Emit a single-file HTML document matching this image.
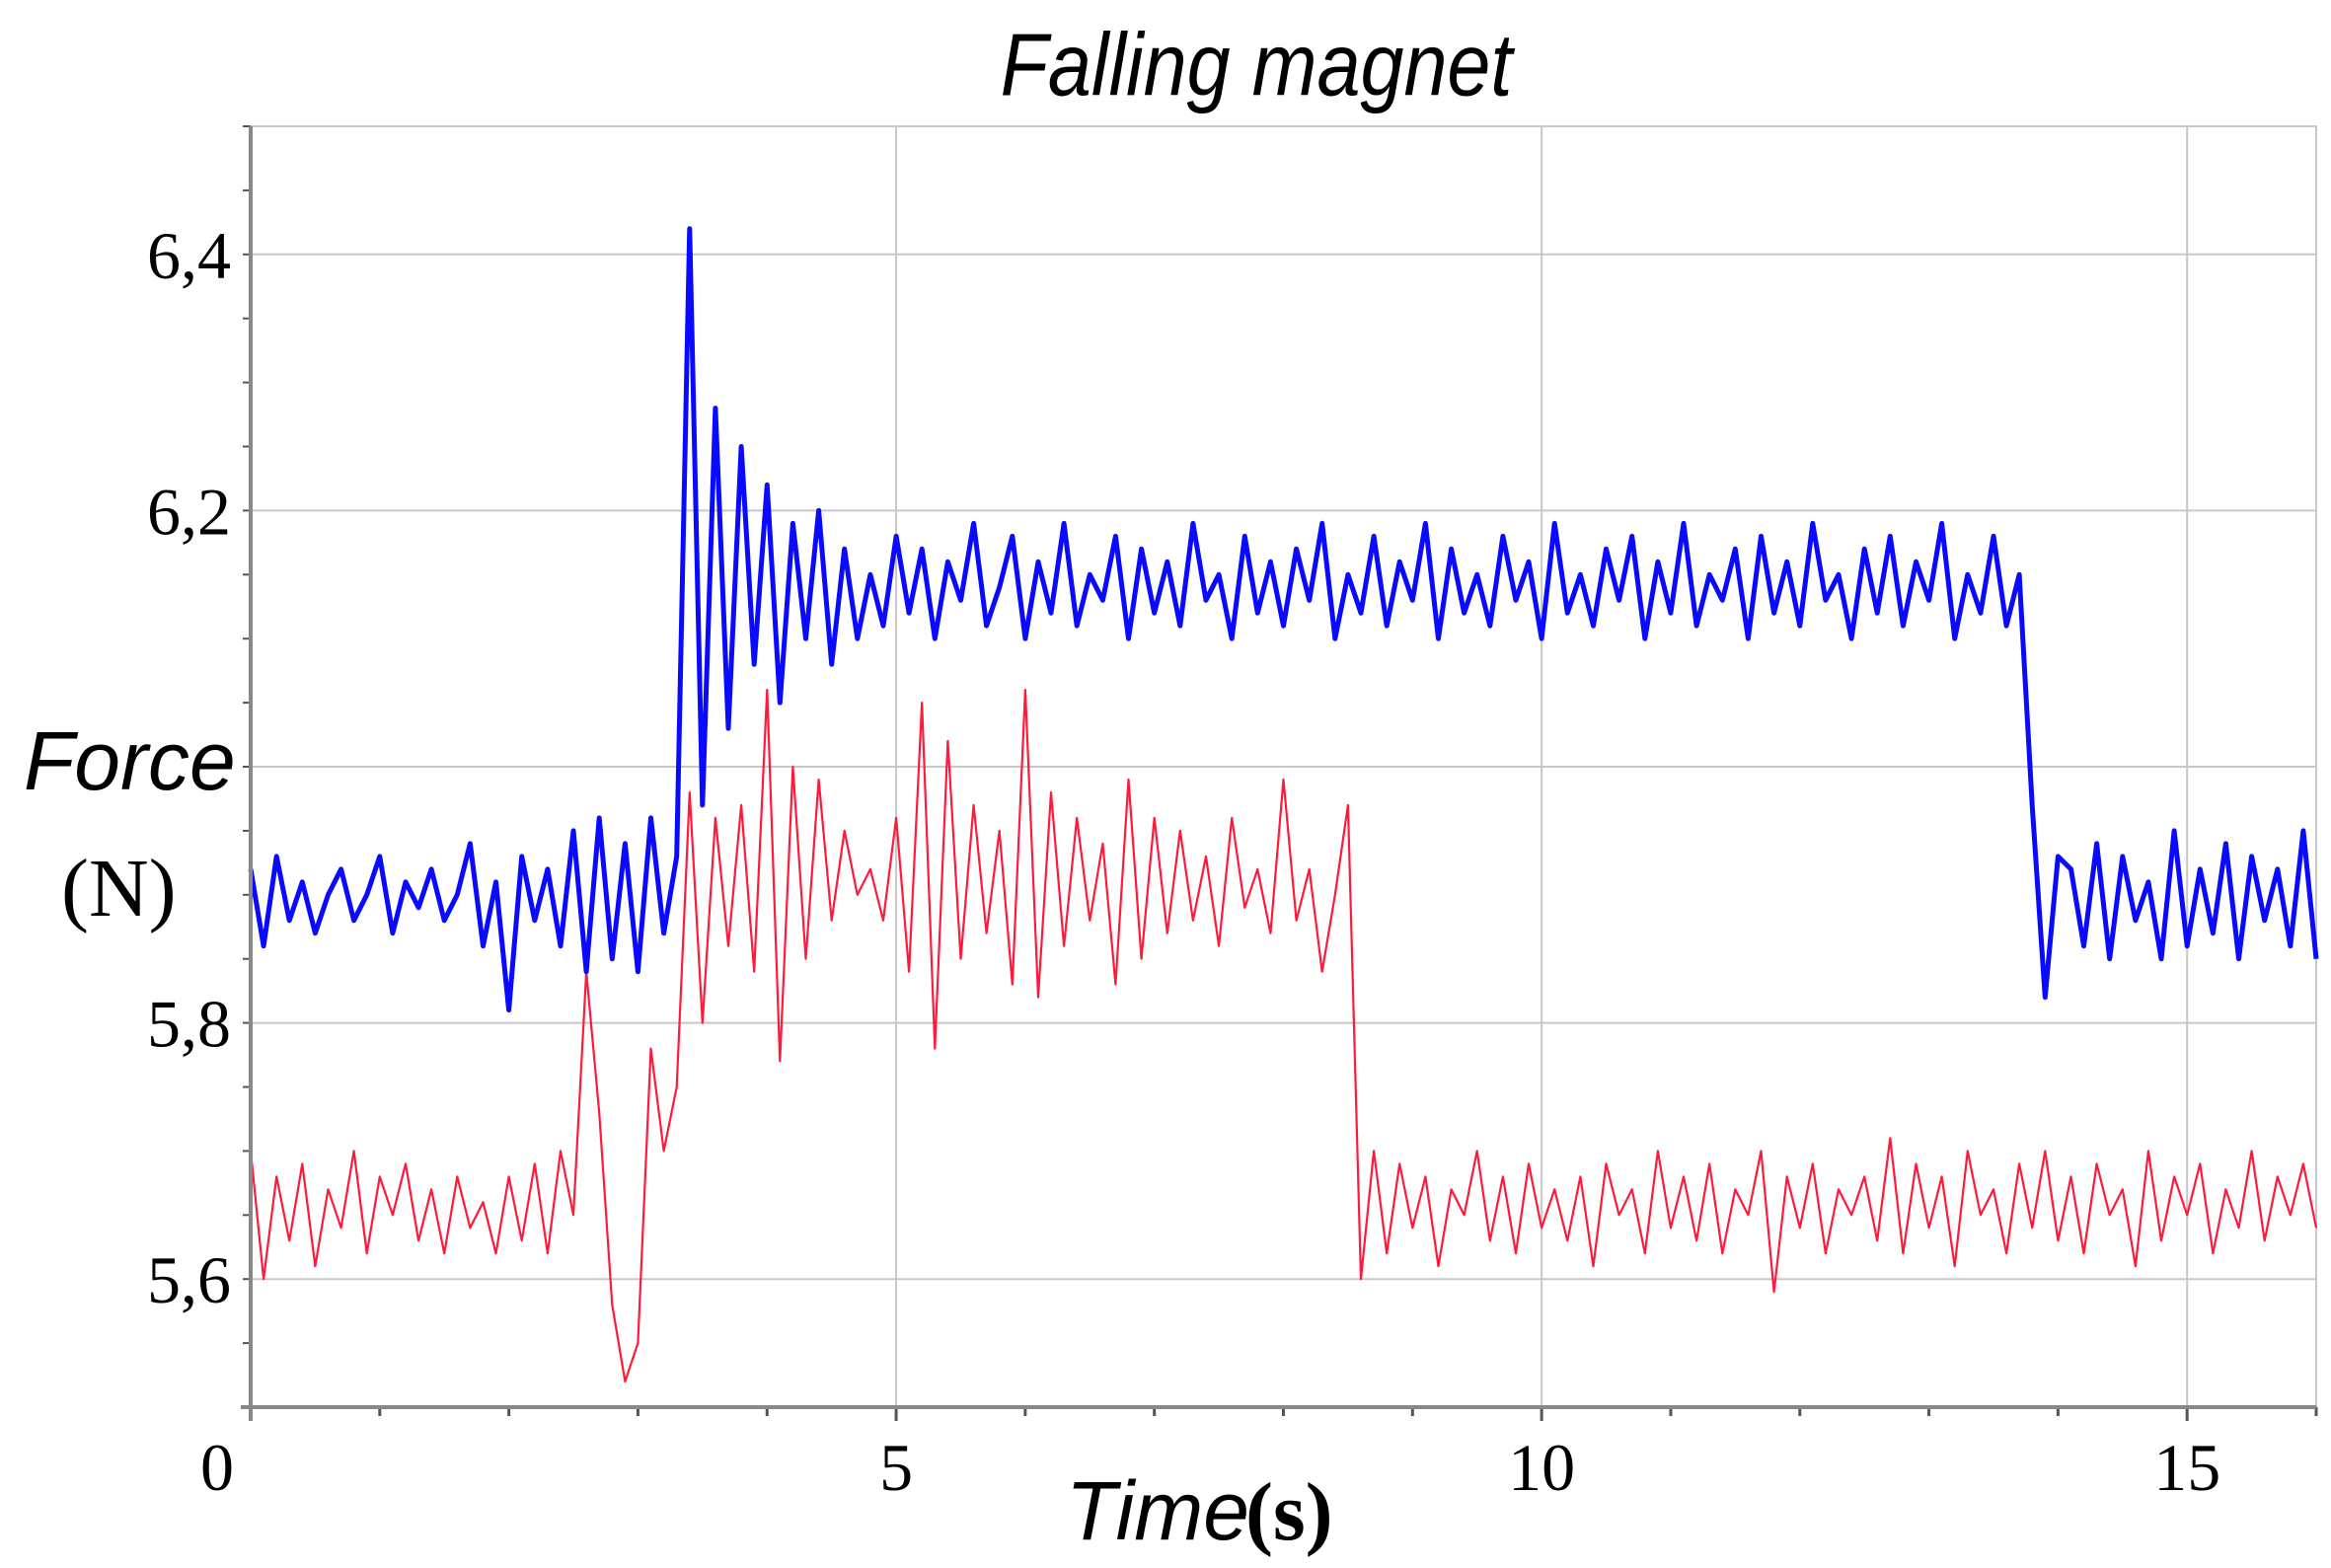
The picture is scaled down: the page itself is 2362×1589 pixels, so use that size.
<!DOCTYPE html>
<html><head><meta charset="utf-8"><style>
html,body{margin:0;padding:0;background:#fff;}
svg{display:block;}
</style></head><body>
<svg id="chart" width="2362" height="1589" xmlns="http://www.w3.org/2000/svg">
<rect width="2362" height="1589" fill="#fff"/>
<text x="1273" y="92" text-anchor="middle" font-family="Liberation Sans, sans-serif" font-style="italic" font-size="86" transform="translate(1273,0) scale(0.92,1.05) translate(-1273,0)">Falling magnet</text>
<g id="grid"></g>
<g id="series"></g>
<g id="axes"></g>
<text x="24" y="800" font-family="Liberation Sans, sans-serif" font-style="italic" font-size="84">Force</text>
<text x="62" y="928" font-family="Liberation Serif, serif" font-size="84">(N)</text>
<text x="1080" y="1560" font-family="Liberation Sans, sans-serif" font-style="italic" font-size="84">Time</text>
<text x="1262" y="1560" font-family="Liberation Serif, serif" font-size="84" font-weight="bold">(s)</text>
</svg>
<script>
const xTicks=[0,5,10,15];
const xTickLabels=["0","5","10","15"];
const yTicks=[5.6,5.8,6.0,6.2,6.4];
const yTickLabels=["5,6","5,8","","6,2","6,4"];
const timeStep=0.1;
const blueValues=[5.92,5.86,5.93,5.88,5.91,5.87,5.90,5.92,5.88,5.90,5.93,5.87,5.91,5.89,5.92,5.88,5.90,5.94,5.86,5.91,5.81,5.93,5.88,5.92,5.86,5.95,5.84,5.96,5.85,5.94,5.84,5.96,5.87,
5.93,6.42,5.97,6.28,6.03,6.25,6.08,6.22,6.05,6.19,6.10,6.20,6.08,6.17,6.10,
6.15,6.11,6.18,6.12,6.17,6.10,6.16,6.13,6.19,6.11,6.14,6.18,6.10,6.16,6.12,6.19,6.11,6.15,6.13,6.18,
6.10,6.17,6.12,6.16,6.11,6.19,6.13,6.15,6.10,6.18,6.12,6.16,6.11,6.17,6.13,6.19,6.10,6.15,6.12,6.18,
6.11,6.16,6.13,6.19,6.10,6.17,6.12,6.15,6.11,6.18,6.13,6.16,6.10,6.19,6.12,6.15,6.11,6.17,6.13,6.18,
6.10,6.16,6.12,6.19,6.11,6.15,6.13,6.17,6.10,6.18,6.12,6.16,6.11,6.19,6.13,6.15,6.10,6.17,6.12,6.18,
6.11,6.16,6.13,6.19,6.10,6.15,6.12,6.18,6.11,6.15,
5.97,5.82,5.93,
5.92,5.86,5.94,5.85,5.93,5.88,5.91,5.85,5.95,5.86,5.92,5.87,5.94,5.85,5.93,5.88,5.92,5.86,5.95,5.85];
const redValues=[5.70,5.60,5.68,5.63,5.69,5.61,5.67,5.64,5.70,5.62,5.68,5.65,5.69,5.63,5.67,5.62,5.68,5.64,5.66,5.62,5.68,5.63,5.69,5.62,5.70,
5.65,5.84,5.73,5.58,5.52,5.55,5.78,5.70,5.75,5.98,5.80,5.96,5.86,5.97,5.84,6.06,5.77,6.00,5.85,5.99,5.88,5.95,5.90,5.92,5.88,
5.96,5.84,6.05,5.78,6.02,5.85,5.97,5.87,5.95,5.83,6.06,5.82,5.98,5.86,5.96,5.88,5.94,5.83,5.99,5.85,
5.96,5.87,5.95,5.88,5.93,5.86,5.96,5.89,5.92,5.87,5.99,5.88,5.92,5.84,5.90,5.97,5.60,
5.70,5.62,5.69,5.64,5.68,5.61,5.67,5.65,5.70,5.63,5.68,5.62,5.69,5.64,5.67,5.63,5.68,5.61,5.69,5.65,
5.67,5.62,5.70,5.64,5.68,5.63,5.69,5.62,5.67,5.65,5.70,5.59,5.68,5.64,5.69,5.62,5.67,5.65,5.68,5.63,
5.71,5.62,5.69,5.64,5.68,5.61,5.70,5.65,5.67,5.62,5.69,5.64,5.70,5.63,5.68,5.62,5.69,5.65,5.67,5.61,
5.70,5.63,5.68,5.65,5.69,5.62,5.67,5.64,5.70,5.63,5.68,5.65,5.69,5.64];

const L=254,R=2347,T=128,B=1426;
const xMin=0,xMax=16,yMin=5.5,yMax=6.5;
const sx=v=>L+(v-xMin)/(xMax-xMin)*(R-L);
const sy=v=>B-(v-yMin)/(yMax-yMin)*(B-T);
const NS="http://www.w3.org/2000/svg";
function mk(tag,attrs,parent){const e=document.createElementNS(NS,tag);for(const k in attrs)e.setAttribute(k,attrs[k]);parent.appendChild(e);return e;}
const grid=document.getElementById('grid'),axes=document.getElementById('axes'),series=document.getElementById('series');
xTicks.forEach((t,i)=>{
  if(t>0){const g=mk('line',{x1:sx(t),x2:sx(t),y1:T,y2:B,stroke:'#c8c8c8','stroke-width':2},grid);
  
  }
  const tx=mk('text',{x:sx(t)-(t===0?34:0),y:1510,'text-anchor':'middle','font-family':'Liberation Serif, serif','font-size':68},axes);
  tx.textContent=xTickLabels[i];
  
  
});
yTicks.forEach((t,i)=>{
  const g=mk('line',{x1:L,x2:R,y1:sy(t),y2:sy(t),stroke:'#c8c8c8','stroke-width':2},grid);
  
  
  const tx=mk('text',{x:234,y:sy(t)+24,'text-anchor':'end','font-family':'Liberation Serif, serif','font-size':68},axes);
  tx.textContent=yTickLabels[i];
  
  
});
const fr=mk('rect',{x:L,y:T,width:R-L,height:B-T,fill:'none',stroke:'#c8c8c8','stroke-width':2},grid);


for(let t=0;t<=16;t++){const tk=mk('line',{x1:sx(t),x2:sx(t),y1:B,y2:B+(t%5===0?14:9),stroke:'#555','stroke-width':3},axes);
  
  }
for(let v=5.5;v<=6.501;v+=0.05){const tk=mk('line',{x1:L-8,x2:L,y1:sy(v),y2:sy(v),stroke:'#555','stroke-width':2},axes);
  
  }
const xa=mk('line',{x1:L-10,x2:R,y1:B,y2:B,stroke:'#888','stroke-width':4},axes);


const ya=mk('line',{x1:L,x2:L,y1:T,y2:B+14,stroke:'#888','stroke-width':4},axes);


function pts(arr){return arr.map((v,i)=>sx(i*timeStep).toFixed(1)+','+sy(v).toFixed(1)).join(' ');}
const red=mk('polyline',{points:pts(redValues),fill:'none',stroke:'#ff1a3c','stroke-width':2.2,'stroke-linejoin':'round'},series);


const blue=mk('polyline',{points:pts(blueValues),fill:'none',stroke:'#0a0aff','stroke-width':5,'stroke-linejoin':'round'},series);


</script>
</body></html>
